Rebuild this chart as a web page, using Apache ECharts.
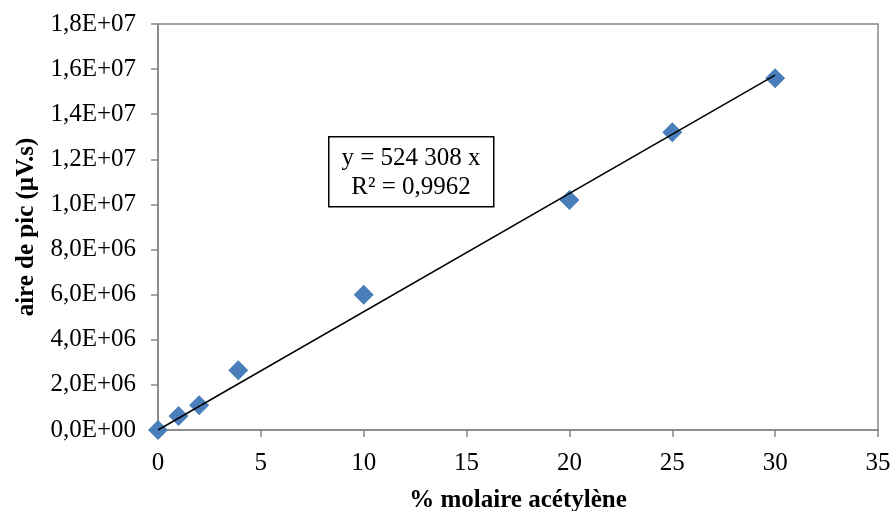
<!DOCTYPE html>
<html>
<head>
<meta charset="utf-8">
<script src="https://cdn.jsdelivr.net/npm/echarts@6/dist/echarts.min.js"></script>
<style>html,body{margin:0;padding:0;background:#fff}#c{width:893px;height:511px}</style>
</head>
<body>
<div id="c"></div>
<script>
var xValues = [0, 1, 2, 3.9, 10, 20, 25, 30];
var yValues = [0, 620000, 1100000, 2650000, 6000000, 10200000, 13200000, 15600000];
var slope = 524308;
var trendX = [0, 30];
var equationText = 'y = 524 308 x';
var r2Text = 'R² = 0,9962';
var xTitle = '% molaire acétylène';
var yTitle = 'aire de pic (µV.s)';

var scatterData = xValues.map(function (x, i) { return [x, yValues[i]]; });
var trendData = trendX.map(function (x) { return [x, slope * x]; });

function fmtY(v) {
  if (v === 0) return '0,0E+00';
  var s = v.toExponential(1);
  var parts = s.split('e');
  var exp = parseInt(parts[1], 10);
  var es = (exp < 0 ? '-' : '+') + (Math.abs(exp) < 10 ? '0' : '') + Math.abs(exp);
  return parts[0].replace('.', ',') + 'E' + es;
}

var chart = echarts.init(document.getElementById('c'));
var font = 'Liberation Serif';
var fs = 25;
chart.setOption({
  animation: false,
  backgroundColor: '#fff',
  grid: { left: 158, right: 15, top: 24, bottom: 81, show: true, borderColor: '#868686', borderWidth: 1.5, containLabel: false, outerBoundsMode: 'none' },
  xAxis: {
    type: 'value', min: 0, max: 35, interval: 5,
    name: xTitle, nameLocation: 'middle', nameGap: 58,
    nameTextStyle: { fontFamily: font, fontSize: fs, fontWeight: 'bold', color: '#000' },
    axisLine: { show: true, lineStyle: { color: '#868686', width: 1.5 } },
    axisTick: { show: true, inside: false, length: 7, lineStyle: { color: '#868686', width: 1.5 } },
    axisLabel: { fontFamily: font, fontSize: fs, color: '#000', margin: 21 },
    splitLine: { show: false }
  },
  yAxis: {
    type: 'value', min: 0, max: 18000000, interval: 2000000,
    name: yTitle, nameLocation: 'middle', nameGap: 119, nameRotate: 90,
    nameTextStyle: { fontFamily: font, fontSize: fs, fontWeight: 'bold', color: '#000' },
    axisLine: { show: true, lineStyle: { color: '#868686', width: 1.5 } },
    axisTick: { show: true, inside: false, length: 7, lineStyle: { color: '#868686', width: 1.5 } },
    axisLabel: { fontFamily: font, fontSize: fs, color: '#000', margin: 22, formatter: fmtY },
    splitLine: { show: false }
  },
  series: [
    {
      type: 'line', data: trendData, symbol: 'none', z: 3,
      lineStyle: { color: '#000', width: 1.5 }, silent: true
    },
    {
      type: 'scatter', data: scatterData, symbol: 'diamond', symbolSize: 20, z: 2,
      itemStyle: { color: '#4A7EBB', opacity: 1 }
    }
  ],
  graphic: [
    {
      type: 'rect', left: 328, top: 136, z: 10,
      shape: { width: 165, height: 70 },
      style: { fill: '#fff', stroke: '#000', lineWidth: 1.5 }
    },
    {
      type: 'text', z: 11, x: 411, y: 158,
      style: { text: equationText, fontFamily: font, fontSize: fs, fill: '#000', align: 'center', verticalAlign: 'middle' }
    },
    {
      type: 'text', z: 11, x: 411, y: 187,
      style: { text: r2Text, fontFamily: font, fontSize: fs, fill: '#000', align: 'center', verticalAlign: 'middle' }
    }
  ]
});
</script>
</body>
</html>
